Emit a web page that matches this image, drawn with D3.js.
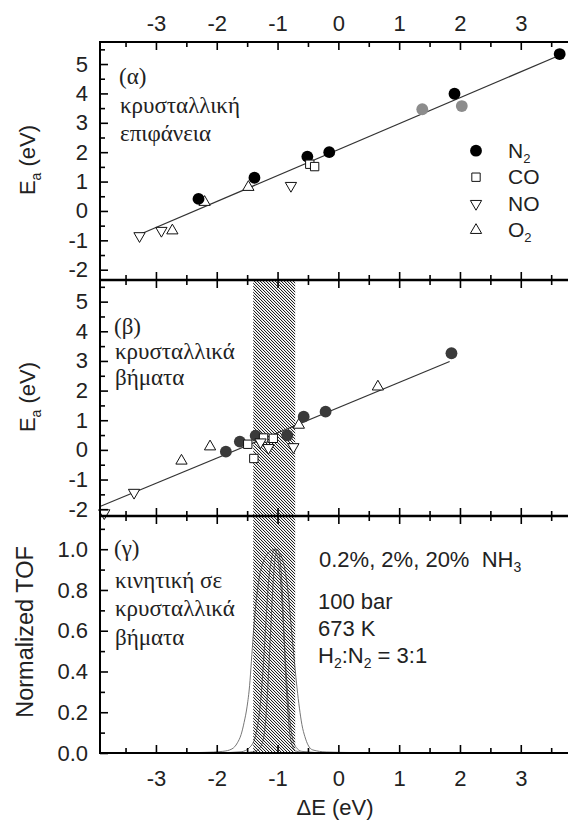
<!DOCTYPE html>
<html><head><meta charset="utf-8">
<script src="https://cdn.jsdelivr.net/npm/d3@7"></script>
<style>body{margin:0;background:#fff}svg{display:block}text{white-space:pre}</style>
</head><body><svg id="c" width="568" height="822"></svg>
<script>
// ---------- data ----------
const xMajor = [-3, -2, -1, 0, 1, 2, 3];
const xMinor = [-3.5, -2.5, -1.5, -0.5, 0.5, 1.5, 2.5, 3.5];
const eaMajor = [-2, -1, 0, 1, 2, 3, 4, 5];
const eaMinor = [-1.5, -0.5, 0.5, 1.5, 2.5, 3.5, 4.5, 5.5];
const tofMajor = [0, 0.2, 0.4, 0.6, 0.8, 1.0];
const tofMinor = [0.1, 0.3, 0.5, 0.7, 0.9, 1.1];

// (α) terraces
const n2Top = [[-2.30, 0.41], [-1.38, 1.13], [-0.51, 1.85], [-0.15, 2.0], [1.91, 3.99], [3.64, 5.34]];
const n2TopGray = [[1.38, 3.46], [2.03, 3.57]];
const coTop = [[-0.47, 1.59], [-0.39, 1.51]];
const noTop = [[-3.27, -0.85], [-2.91, -0.67], [-0.78, 0.86]];
const o2Top = [[-2.73, -0.67], [-2.20, 0.30], [-1.48, 0.81]];
const fitTop = [[-3.27, -0.80], [3.64, 5.30]];

// (β) steps
const n2Mid = [[-1.85, -0.06], [-1.62, 0.28], [-1.36, 0.48], [-0.84, 0.49], [-0.57, 1.12], [-0.21, 1.29], [1.86, 3.26]];
const coMid = [[-1.49, 0.19], [-1.39, -0.29], [-1.23, 0.40], [-1.07, 0.39]];
const noMid = [[-3.85, -2.13], [-3.36, -1.44], [-1.28, 0.26], [-1.15, 0.07], [-0.74, 0.10]];
const o2Mid = [[-2.58, -0.37], [-2.11, 0.11], [-0.65, 0.84], [0.65, 2.13]];
const fitMid = [[-3.92, -1.91], [1.83, 2.98]];

// (γ) normalized TOF curves (0.2%, 2%, 20% NH3)
const tofA = [[-3.92,0],[-2.6,0.001],[-2.2,0.003],[-1.9,0.008],[-1.75,0.02],[-1.66,0.05],[-1.6,0.09],[-1.55,0.15],[-1.5,0.23],[-1.46,0.33],[-1.43,0.45],[-1.4,0.58],[-1.36,0.72],[-1.3,0.86],[-1.22,0.95],[-1.12,0.99],[-1.04,1.0],[-0.96,0.98],[-0.88,0.9],[-0.82,0.77],[-0.77,0.6],[-0.72,0.44],[-0.68,0.32],[-0.64,0.22],[-0.6,0.14],[-0.55,0.08],[-0.5,0.04],[-0.42,0.015],[-0.2,0.005],[0.3,0.002],[0.9,0.001],[3.9,0]];
const tofB = [[-3.92,0],[-2.0,0.001],[-1.6,0.006],[-1.45,0.03],[-1.35,0.1],[-1.28,0.25],[-1.23,0.45],[-1.19,0.65],[-1.15,0.83],[-1.1,0.95],[-1.05,1.0],[-1.0,0.96],[-0.95,0.84],[-0.91,0.66],[-0.87,0.45],[-0.83,0.27],[-0.78,0.12],[-0.72,0.04],[-0.6,0.008],[-0.2,0.001],[3.9,0]];
const tofC = [[-3.92,0],[-1.6,0.001],[-1.35,0.01],[-1.25,0.05],[-1.19,0.18],[-1.15,0.38],[-1.11,0.62],[-1.07,0.85],[-1.03,0.98],[-1.0,1.0],[-0.97,0.97],[-0.93,0.84],[-0.9,0.62],[-0.87,0.4],[-0.83,0.2],[-0.78,0.06],[-0.7,0.01],[-0.5,0.001],[3.9,0]];
const band = [-1.40, -0.71];

const legendItems = [["N", "2", "n2"], ["CO", "", "co"], ["NO", "", "no"], ["O", "2", "o2"]];

// ---------- layout ----------
const svg = d3.select("#c");
const SANS = "'Liberation Sans', Arial, Helvetica, sans-serif";
const SERIF = "'Liberation Serif', 'DejaVu Serif', serif";
const x = d3.scaleLinear().domain([-3.92, 3.9]).range([100, 575.5]);
const yTop = d3.scaleLinear().domain([-2.35, 5.75]).range([280, 42]);
const yMid = d3.scaleLinear().domain([-2.23, 5.73]).range([516, 280]);
const yBot = d3.scaleLinear().domain([0, 1.163]).range([753, 516]);

const defs = svg.append("defs");
const pat = defs.append("pattern").attr("id", "hatch").attr("patternUnits", "userSpaceOnUse")
  .attr("width", 3).attr("height", 3);
[0, 1, 2].forEach(i => {
  pat.append("rect").attr("x", i).attr("y", i).attr("width", 1.15).attr("height", 1).attr("fill", "#222");
});
pat.append("rect").attr("x", -1).attr("y", 2).attr("width", 1.15).attr("height", 1).attr("fill", "#222");

const symbols = {
  n2: d3.symbol(d3.symbolCircle, 110),
  co: d3.symbol(d3.symbolSquare, 70),
  no: d3.symbol(d3.symbolTriangle, 55),
  o2: d3.symbol(d3.symbolTriangle, 55)
};
function drawMarks(g, data, yS, kind, fill) {
  g.selectAll(null).data(data).enter().append("path")
    .attr("d", symbols[kind]())
    .attr("transform", d => `translate(${x(d[0])},${yS(d[1])})` + (kind === "no" ? " rotate(180)" : ""))
    .attr("fill", fill || (kind === "n2" ? "#000" : "#fff"))
    .attr("stroke", kind === "n2" ? "none" : "#111")
    .attr("stroke-width", 1);
}
const line = (yS) => d3.line().x(d => x(d[0])).y(d => yS(d[1]));

// ---------- bottom panel curves ----------
const gCur = svg.append("g");
[tofA, tofB, tofC].forEach(c => {
  gCur.append("path").datum(c).attr("d", line(yBot).curve(d3.curveMonotoneX)(c))
    .attr("fill", "none").attr("stroke", "#777").attr("stroke-width", 1);
});

// hatched band spanning (β) and (γ)
svg.append("rect").attr("x", x(band[0])).attr("width", x(band[1]) - x(band[0]))
  .attr("y", 280).attr("height", 753 - 280).attr("fill", "url(#hatch)");

// ---------- top panel ----------
const gT = svg.append("g");
gT.append("path").attr("d", line(yTop)(fitTop)).attr("fill", "none").attr("stroke", "#333").attr("stroke-width", 1.2);
drawMarks(gT, n2TopGray, yTop, "n2", "#8c8c8c");
drawMarks(gT, o2Top, yTop, "o2");
drawMarks(gT, noTop, yTop, "no");
drawMarks(gT, n2Top, yTop, "n2");
drawMarks(gT, coTop, yTop, "co");

// ---------- middle panel ----------
const gM = svg.append("g");
gM.append("path").attr("d", line(yMid)(fitMid)).attr("fill", "none").attr("stroke", "#333").attr("stroke-width", 1.2);
drawMarks(gM, o2Mid, yMid, "o2");
drawMarks(gM, n2Mid, yMid, "n2", "#3a3a3a");
drawMarks(gM, coMid, yMid, "co");
drawMarks(gM, noMid, yMid, "no");

// ---------- axes ----------
function styleAxis(g, fsize) {
  g.select(".domain").remove();
  g.selectAll(".tick line").attr("stroke", "#000").attr("stroke-width", 1.6);
  g.selectAll(".tick text").attr("font-family", SANS).attr("font-size", fsize || 22).attr("fill", "#222");
}
function hAxis(y, maker, labels, pad) {
  const a = maker(x).tickValues(xMajor).tickSize(-8).tickSizeOuter(0).tickPadding(pad || 10)
    .tickFormat(labels ? (d => String(d)) : "");
  styleAxis(svg.append("g").attr("transform", `translate(0,${y})`).call(a));
  const m = maker(x).tickValues(xMinor).tickSize(-5).tickFormat("");
  styleAxis(svg.append("g").attr("transform", `translate(0,${y})`).call(m));
}
function vAxis(yS, major, minor, fmt) {
  const a = d3.axisLeft(yS).tickValues(major).tickSize(-8).tickPadding(12).tickFormat(fmt);
  styleAxis(svg.append("g").attr("transform", "translate(100,0)").call(a));
  const m = d3.axisLeft(yS).tickValues(minor).tickSize(-5).tickFormat("");
  styleAxis(svg.append("g").attr("transform", "translate(100,0)").call(m));
}
hAxis(42, d3.axisTop, true, 11);
hAxis(280, d3.axisBottom, false);
hAxis(280, d3.axisTop, false);
hAxis(516, d3.axisBottom, false);
hAxis(516, d3.axisTop, false);
hAxis(753, d3.axisBottom, true, 17);
vAxis(yTop, eaMajor, eaMinor, d => String(d));
vAxis(yMid, eaMajor, eaMinor, d => String(d));
vAxis(yBot, tofMajor, tofMinor, d3.format(".1f"));

// frame lines
const frame = svg.append("g").attr("stroke", "#000").attr("fill", "none");
frame.append("line").attr("x1", 100).attr("x2", 580).attr("y1", 42).attr("y2", 42).attr("stroke-width", 2);
frame.append("line").attr("x1", 100).attr("x2", 580).attr("y1", 280).attr("y2", 280).attr("stroke-width", 2.6);
frame.append("line").attr("x1", 100).attr("x2", 580).attr("y1", 516).attr("y2", 516).attr("stroke-width", 2.6);
frame.append("line").attr("x1", 100).attr("x2", 580).attr("y1", 753).attr("y2", 753).attr("stroke-width", 2);
frame.append("line").attr("x1", 100).attr("x2", 100).attr("y1", 41).attr("y2", 754).attr("stroke-width", 2);

// ---------- legend ----------
const gL = svg.append("g");
legendItems.forEach((it, i) => {
  const yy = 150.7 + i * 26.5;
  gL.append("path").attr("d", symbols[it[2]]())
    .attr("transform", `translate(476,${yy})` + (it[2] === "no" ? " rotate(180)" : ""))
    .attr("fill", it[2] === "n2" ? "#000" : "#fff").attr("stroke", it[2] === "n2" ? "none" : "#111");
  const t = gL.append("text").attr("x", 508).attr("y", yy + 7).attr("font-family", SANS)
    .attr("font-size", 21).attr("fill", "#222").text(it[0]);
  if (it[1]) t.append("tspan").attr("font-size", 13).attr("dy", 5).text(it[1]);
});

// ---------- texts ----------
function txt(xx, yy, s, font, size) {
  return svg.append("text").attr("x", xx).attr("y", yy).attr("font-family", font)
    .attr("font-size", size).attr("fill", "#222").text(s);
}
txt(119, 84, "(α)", SERIF, 23);
txt(120, 113, "κρυσταλλική", SERIF, 23);
txt(120, 141, "επιφάνεια", SERIF, 23);
txt(114, 334, "(β)", SERIF, 23);
txt(115, 359, "κρυσταλλικά", SERIF, 23);
txt(115, 385, "βήματα", SERIF, 23);
txt(114, 556, "(γ)", SERIF, 23);
txt(115, 588, "κινητική σε", SERIF, 23);
txt(115, 616, "κρυσταλλικά", SERIF, 23);
txt(115, 645, "βήματα", SERIF, 23);

const t1 = txt(319, 567, "0.2%, 2%, 20%  NH", SANS, 22);
t1.append("tspan").attr("font-size", 14).attr("dy", 5).text("3");
txt(318, 609, "100 bar", SANS, 22);
txt(318, 636, "673 K", SANS, 22);
const t4 = txt(318, 663, "H", SANS, 22);
t4.append("tspan").attr("font-size", 14).attr("dy", 5).text("2");
t4.append("tspan").attr("dy", -5).text(":N");
t4.append("tspan").attr("font-size", 14).attr("dy", 5).text("2");
t4.append("tspan").attr("dy", -5).text(" = 3:1");

// axis titles
function ylab(cx, cy, size, parts) {
  const t = svg.append("text").attr("transform", `translate(${cx},${cy}) rotate(-90)`)
    .attr("text-anchor", "middle").attr("font-family", SANS).attr("font-size", size).attr("fill", "#222");
  parts(t);
}
ylab(35, 160, 22, t => { t.append("tspan").text("E"); t.append("tspan").attr("font-size", 14).attr("dy", 6).text("a"); t.append("tspan").attr("dy", -6).text(" (eV)"); });
ylab(35, 397, 22, t => { t.append("tspan").text("E"); t.append("tspan").attr("font-size", 14).attr("dy", 6).text("a"); t.append("tspan").attr("dy", -6).text(" (eV)"); });
ylab(33, 632, 23.5, t => t.text("Normalized TOF"));
svg.append("text").attr("x", 335).attr("y", 815).attr("text-anchor", "middle")
  .attr("font-family", SANS).attr("font-size", 22).attr("fill", "#222").text("ΔE (eV)");
</script>
</body></html>
